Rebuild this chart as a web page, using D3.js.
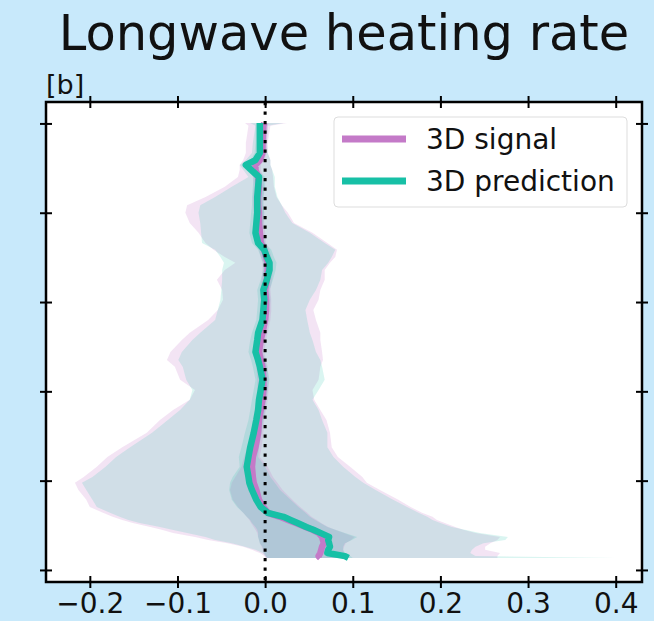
<!DOCTYPE html>
<html>
<head>
<meta charset="utf-8">
<script src="https://cdn.jsdelivr.net/npm/d3@7"></script>
<style>
  html, body { margin: 0; padding: 0; background: #c8e9fb; }
  svg { display: block; }
  text { font-family: "DejaVu Sans", sans-serif; fill: #111; }
</style>
</head>
<body>
<svg id="chart" width="654" height="621"></svg>
<script>
// Vertical levels (height, axis units)
const heights = [10.01, 9.95, 9.56, 9.34, 9.18, 9.07, 8.96, 8.80, 8.58, 8.35,
  8.17, 8.00, 7.77, 7.55, 7.32, 7.17, 7.01, 6.88, 6.72, 6.50,
  6.27, 6.05, 5.82, 5.60, 5.31, 5.15, 4.88, 4.70, 4.55, 4.26,
  4.03, 3.81, 3.58, 3.36, 3.07, 2.75, 2.53, 2.31, 2.08, 1.95,
  1.79, 1.57, 1.41, 1.28, 1.19, 1.12, 1.05, 0.96, 0.90, 0.83,
  0.74, 0.67, 0.60, 0.52, 0.45, 0.38, 0.31, 0.27];

// 3D signal: central profile, outer and inner spread
const signalMid = [-0.001,-0.002,-0.003,-0.003,-0.006,-0.011,-0.011,-0.008,-0.007,-0.008,
  -0.008,-0.007,-0.007,-0.006,-0.005,-0.001,0.001,0.003,0.003,0.002,
  0.000,0.001,0.001,0.000,-0.003,-0.005,-0.007,-0.005,-0.003,-0.002,
  -0.002,-0.003,-0.005,-0.007,-0.008,-0.011,-0.014,-0.015,-0.014,-0.013,
  -0.010,-0.007,-0.002,0.003,0.017,0.026,0.035,0.046,0.054,0.061,
  0.065,0.066,0.067,0.065,0.064,0.063,0.061,0.063];
const signalOuterLo = [-0.023,-0.019,-0.022,-0.022,-0.025,-0.029,-0.029,-0.031,-0.046,-0.068,
  -0.089,-0.091,-0.086,-0.076,-0.068,-0.059,-0.046,-0.034,-0.046,-0.055,
  -0.049,-0.048,-0.054,-0.065,-0.086,-0.095,-0.108,-0.112,-0.103,-0.097,
  -0.080,-0.086,-0.105,-0.120,-0.135,-0.163,-0.180,-0.192,-0.207,-0.217,
  -0.213,-0.204,-0.200,-0.185,-0.174,-0.163,-0.151,-0.131,-0.118,-0.105,
  -0.080,-0.065,-0.043,-0.025,-0.015,-0.006,-0.001,0.001];
const signalOuterHi = [0.025,0.006,0.003,0.003,0.006,0.006,0.008,0.009,0.010,0.013,
  0.019,0.026,0.033,0.054,0.071,0.082,0.080,0.074,0.068,0.068,
  0.063,0.061,0.055,0.058,0.063,0.063,0.065,0.066,0.063,0.061,
  0.054,0.056,0.063,0.070,0.074,0.076,0.083,0.097,0.111,0.116,
  0.131,0.152,0.166,0.179,0.191,0.196,0.205,0.217,0.226,0.240,
  0.268,0.265,0.257,0.251,0.251,0.268,0.265,0.265];
const signalInnerLo = [-0.006,-0.007,-0.008,-0.008,-0.011,-0.017,-0.017,-0.014,-0.013,-0.014,
  -0.014,-0.013,-0.013,-0.012,-0.011,-0.007,-0.005,-0.003,-0.003,-0.004,
  -0.006,-0.005,-0.006,-0.007,-0.010,-0.012,-0.014,-0.012,-0.010,-0.009,
  -0.009,-0.010,-0.012,-0.014,-0.016,-0.020,-0.024,-0.027,-0.034,-0.038,
  -0.040,-0.037,-0.031,-0.025,-0.021,-0.018,-0.016,-0.013,-0.011,-0.009,
  -0.008,-0.007,-0.006,-0.004,-0.003,-0.002,0.000,0.001];
const signalInnerHi = [0.004,0.003,0.002,0.002,-0.001,-0.005,-0.005,-0.002,-0.001,-0.002,
  -0.002,-0.001,-0.001,0.000,0.001,0.005,0.007,0.009,0.009,0.008,
  0.006,0.007,0.007,0.006,0.003,0.001,-0.001,0.001,0.003,0.004,
  0.004,0.003,0.001,-0.001,-0.002,-0.004,-0.006,0.003,0.009,0.014,
  0.020,0.031,0.040,0.048,0.053,0.059,0.064,0.072,0.080,0.090,
  0.102,0.098,0.092,0.090,0.089,0.090,0.094,0.096];

// 3D prediction: central profile, outer and inner spread
const predMid = [-0.006,-0.006,-0.006,-0.006,-0.011,-0.022,-0.016,-0.007,-0.008,-0.009,
  -0.009,-0.009,-0.010,-0.011,-0.008,-0.001,0.002,0.005,0.005,0.002,
  -0.002,-0.001,-0.002,-0.003,-0.008,-0.009,-0.011,-0.008,-0.006,-0.003,
  -0.005,-0.007,-0.008,-0.010,-0.013,-0.017,-0.019,-0.021,-0.019,-0.018,
  -0.015,-0.010,-0.005,0.003,0.021,0.029,0.037,0.047,0.055,0.063,
  0.073,0.072,0.073,0.074,0.072,0.071,0.091,0.095];
const predOuterLo = [-0.017,-0.011,-0.014,-0.015,-0.022,-0.029,-0.025,-0.019,-0.038,-0.057,
  -0.074,-0.076,-0.074,-0.073,-0.072,-0.057,-0.051,-0.047,-0.049,-0.049,
  -0.050,-0.051,-0.054,-0.057,-0.074,-0.083,-0.095,-0.099,-0.094,-0.090,
  -0.083,-0.086,-0.097,-0.111,-0.129,-0.154,-0.170,-0.182,-0.197,-0.209,
  -0.204,-0.197,-0.192,-0.177,-0.166,-0.156,-0.143,-0.120,-0.106,-0.089,
  -0.068,-0.057,-0.038,-0.023,-0.011,-0.003,0.000,0.003];
const predOuterHi = [0.021,0.003,0.002,0.003,0.006,0.006,0.008,0.011,0.011,0.014,
  0.019,0.023,0.031,0.051,0.068,0.080,0.076,0.072,0.065,0.063,
  0.058,0.051,0.046,0.048,0.051,0.054,0.058,0.063,0.065,0.068,
  0.061,0.054,0.061,0.065,0.071,0.071,0.078,0.089,0.103,0.112,
  0.126,0.146,0.162,0.175,0.185,0.191,0.200,0.213,0.228,0.245,
  0.277,0.274,0.249,0.240,0.236,0.234,0.240,0.400];
const predInnerLo = [-0.010,-0.011,-0.011,-0.012,-0.017,-0.027,-0.022,-0.013,-0.014,-0.015,
  -0.015,-0.016,-0.017,-0.018,-0.015,-0.008,-0.005,-0.002,-0.002,-0.005,
  -0.009,-0.008,-0.009,-0.010,-0.015,-0.017,-0.019,-0.016,-0.014,-0.011,
  -0.013,-0.015,-0.017,-0.019,-0.023,-0.027,-0.030,-0.029,-0.037,-0.040,
  -0.041,-0.038,-0.032,-0.025,-0.021,-0.017,-0.015,-0.011,-0.009,-0.008,
  -0.008,-0.007,-0.006,-0.003,-0.002,-0.001,0.001,0.002];
const predInnerHi = [-0.001,-0.001,0.000,0.000,-0.004,-0.015,-0.009,0.000,0.000,-0.002,
  -0.002,-0.001,-0.002,-0.003,0.000,0.007,0.010,0.013,0.012,0.009,
  0.005,0.006,0.005,0.004,-0.001,-0.002,-0.003,0.000,0.002,0.005,
  0.003,0.001,0.000,-0.002,-0.004,-0.007,-0.008,0.000,0.006,0.011,
  0.017,0.029,0.038,0.046,0.051,0.057,0.063,0.071,0.080,0.091,
  0.105,0.099,0.091,0.089,0.089,0.091,0.097,0.100];

const xTicks = [-0.2, -0.1, 0.0, 0.1, 0.2, 0.3, 0.4];
const yTicks = [0, 2, 4, 6, 8, 10];
const seriesNames = ["3D signal", "3D prediction"];
const titleText = "Longwave heating rate";
const panelLabel = "[b]";

const signalColor = "#c47ac8";
const predColor = "#17c0a6";

const svg = d3.select("#chart");
const box = { left: 46, right: 642, top: 102, bottom: 582 };

const x = d3.scaleLinear().domain([-0.25, 0.43]).range([box.left, box.right]);
const y = d3.scaleLinear().domain([-0.27, 10.48]).range([box.bottom, box.top]);

// plot background
svg.append("rect")
  .attr("x", box.left).attr("y", box.top)
  .attr("width", box.right - box.left).attr("height", box.bottom - box.top)
  .attr("fill", "#ffffff");

svg.append("clipPath").attr("id", "plotClip")
  .append("rect")
  .attr("x", box.left).attr("y", box.top)
  .attr("width", box.right - box.left).attr("height", box.bottom - box.top);

const plot = svg.append("g").attr("clip-path", "url(#plotClip)");

const idx = d3.range(heights.length);
const band = (lo, hi) => d3.area()
  .y(i => y(heights[i]))
  .x0(i => x(lo[i]))
  .x1(i => x(hi[i]));
const profile = (vals) => d3.line()
  .x(i => x(vals[i]))
  .y(i => y(heights[i]));

// outer spread
plot.append("path").attr("d", band(signalOuterLo, signalOuterHi)(idx))
  .attr("fill", signalColor).attr("fill-opacity", 0.2);
plot.append("path").attr("d", band(predOuterLo, predOuterHi)(idx))
  .attr("fill", predColor).attr("fill-opacity", 0.16);
// inner spread
plot.append("path").attr("d", band(signalInnerLo, signalInnerHi)(idx))
  .attr("fill", signalColor).attr("fill-opacity", 0.2);
plot.append("path").attr("d", band(predInnerLo, predInnerHi)(idx))
  .attr("fill", predColor).attr("fill-opacity", 0.16);

// central profiles
plot.append("path").attr("d", profile(signalMid)(idx))
  .attr("fill", "none").attr("stroke", signalColor)
  .attr("stroke-width", 6.5).attr("stroke-linejoin", "round");
plot.append("path").attr("d", profile(predMid)(idx))
  .attr("fill", "none").attr("stroke", predColor)
  .attr("stroke-width", 6.5).attr("stroke-linejoin", "round");

// zero reference
plot.append("line")
  .attr("x1", x(0)).attr("x2", x(0))
  .attr("y1", box.top).attr("y2", box.bottom)
  .attr("stroke", "#000").attr("stroke-width", 3)
  .attr("stroke-dasharray", "3.2 6.3");

// axes with ticks crossing the spines
const fmt = d3.format(".1f");
const styleTicks = (g, horizontal) => {
  g.select(".domain").remove();
  g.selectAll(".tick line")
    .attr("stroke", "#000").attr("stroke-width", 2)
    .each(function () {
      const s = d3.select(this);
      if (horizontal) s.attr("y1", -6).attr("y2", 6);
      else s.attr("x1", -6).attr("x2", 6);
    });
};

const gx = svg.append("g").attr("transform", `translate(0,${box.bottom})`)
  .call(d3.axisBottom(x).tickValues(xTicks).tickFormat(fmt).tickSizeInner(6).tickPadding(8));
styleTicks(gx, true);
gx.selectAll(".tick text")
  .attr("y", 0).attr("dy", null)
  .attr("transform", "translate(0,31)")
  .style("font-size", "28px").style("font-family", "DejaVu Sans").attr("fill", "#111");

const gxTop = svg.append("g").attr("transform", `translate(0,${box.top})`)
  .call(d3.axisTop(x).tickValues(xTicks).tickFormat(""));
styleTicks(gxTop, true);

const gy = svg.append("g").attr("transform", `translate(${box.left},0)`)
  .call(d3.axisLeft(y).tickValues(yTicks).tickFormat(""));
styleTicks(gy, false);

const gyRight = svg.append("g").attr("transform", `translate(${box.right},0)`)
  .call(d3.axisRight(y).tickValues(yTicks).tickFormat(""));
styleTicks(gyRight, false);

// spines
svg.append("rect")
  .attr("x", box.left).attr("y", box.top)
  .attr("width", box.right - box.left).attr("height", box.bottom - box.top)
  .attr("fill", "none").attr("stroke", "#000").attr("stroke-width", 2.5);

// title and panel label
svg.append("text")
  .attr("x", (box.left + box.right) / 2).attr("y", 50)
  .attr("text-anchor", "middle")
  .style("font-size", "49.5px")
  .text(titleText);
svg.append("text")
  .attr("x", 46).attr("y", 94)
  .style("font-size", "27px")
  .text(panelLabel);

// legend
const legend = svg.append("g");
legend.append("rect")
  .attr("x", 334).attr("y", 117).attr("width", 293).attr("height", 90)
  .attr("rx", 4).attr("fill", "#ffffff").attr("fill-opacity", 0.85)
  .attr("stroke", "#dddddd").attr("stroke-width", 1);
const legendColors = [signalColor, predColor];
seriesNames.forEach((name, i) => {
  const yy = 139 + i * 42;
  legend.append("line")
    .attr("x1", 342).attr("x2", 406).attr("y1", yy).attr("y2", yy)
    .attr("stroke", legendColors[i]).attr("stroke-width", 7);
  legend.append("text")
    .attr("x", 426).attr("y", yy + 10)
    .style("font-size", "28px")
    .text(name);
});
</script>
</body>
</html>
